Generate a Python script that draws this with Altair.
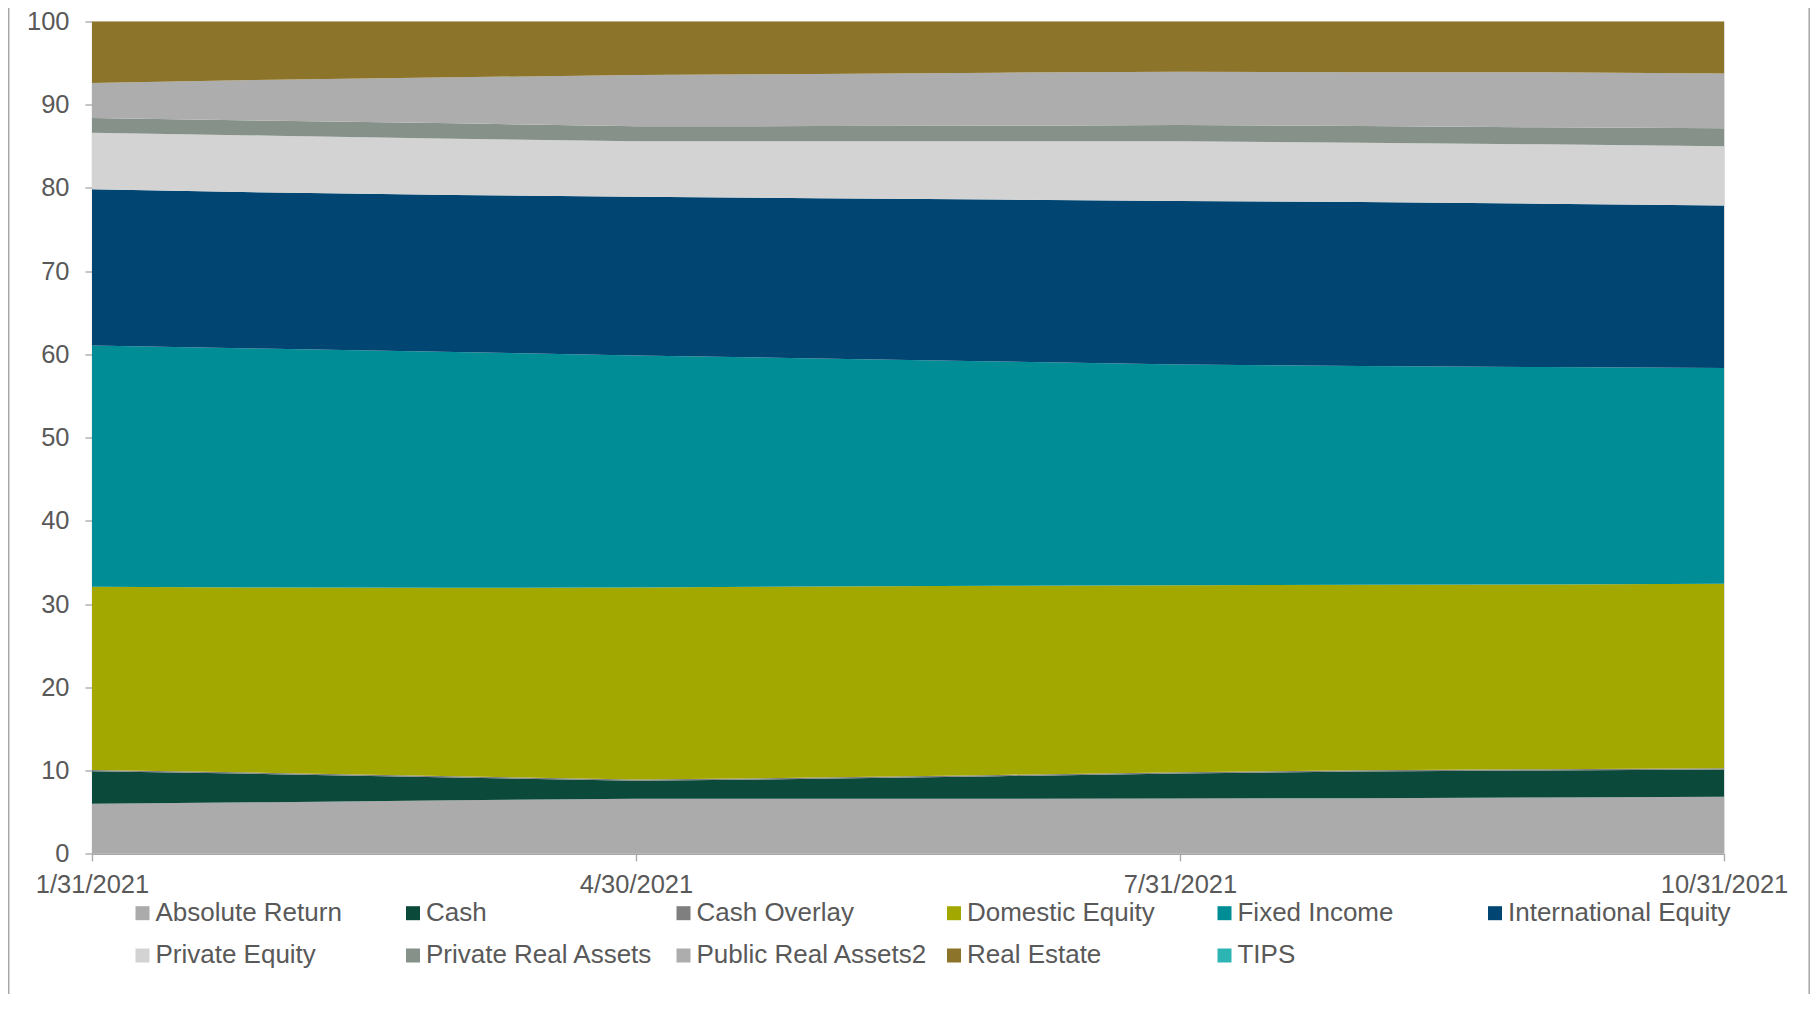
import altair as alt
import pandas as pd

dates = ["1/31/2021", "2/28/2021", "3/31/2021", "4/30/2021", "5/31/2021",
         "6/30/2021", "7/31/2021", "8/31/2021", "9/30/2021", "10/31/2021"]
tick_labels = ["1/31/2021", "4/30/2021", "7/31/2021", "10/31/2021"]

series_names = ["Absolute Return", "Cash", "Cash Overlay", "Domestic Equity", "Fixed Income",
                "International Equity", "Private Equity", "Private Real Assets",
                "Public Real Assets2", "Real Estate", "TIPS"]
series_colors = ["#ababab", "#0b4a3a", "#7f7f7f", "#a3a800", "#018d95",
                 "#014672", "#d3d3d3", "#859189", "#adadad", "#8c742b", "#2db5b3"]

absolute_return = [6.00, 6.20, 6.44, 6.60, 6.60, 6.62, 6.64, 6.68, 6.76, 6.84]
cash = [3.93, 3.37, 2.73, 2.17, 2.41, 2.71, 3.01, 3.21, 3.25, 3.29]
cash_overlay = [0.15, 0.15, 0.15, 0.15, 0.15, 0.15, 0.15, 0.15, 0.15, 0.15]
domestic_equity = [22.00, 22.28, 22.64, 23.08, 22.96, 22.72, 22.48, 22.28, 22.20, 22.16]
fixed_income = [29.00, 28.68, 28.32, 27.88, 27.40, 26.96, 26.52, 26.28, 26.12, 25.92]
international_equity = [18.75, 18.76, 18.88, 19.05, 19.24, 19.44, 19.64, 19.70, 19.62, 19.54]
private_equity = [6.81, 6.84, 6.76, 6.67, 6.84, 7.00, 7.16, 7.14, 7.14, 7.10]
private_real_assets = [1.76, 1.80, 1.84, 1.80, 1.84, 1.88, 1.96, 2.00, 2.04, 2.16]
public_real_assets2 = [4.20, 4.92, 5.54, 6.16, 6.26, 6.37, 6.40, 6.46, 6.62, 6.60]
real_estate = [7.40, 7.00, 6.70, 6.44, 6.30, 6.15, 6.04, 6.10, 6.10, 6.24]
tips = [0.0, 0.0, 0.0, 0.0, 0.0, 0.0, 0.0, 0.0, 0.0, 0.0]

all_values = [absolute_return, cash, cash_overlay, domestic_equity, fixed_income,
              international_equity, private_equity, private_real_assets,
              public_real_assets2, real_estate, tips]

rows = []
for k, (name, vals) in enumerate(zip(series_names, all_values)):
    for d, v in zip(dates, vals):
        rows.append({"date": d, "series": name, "value": v, "k": k})
df = pd.DataFrame(rows)

FONT = "Liberation Sans"
TXT = "#595959"
AX = "#a6a6a6"
AXIS_FS = 25.5
LEG_FS = 26

areas = alt.Chart(df).mark_area(interpolate="linear", opacity=1).encode(
    x=alt.X("date:O", sort=dates,
            scale=alt.Scale(type="point", padding=0),
            axis=alt.Axis(values=tick_labels, title=None, labelAngle=0,
                          labelOverlap=False, labelFont=FONT, labelFontSize=AXIS_FS,
                          labelColor=TXT, labelPadding=12, tickSize=7,
                          tickColor=AX, domainColor=AX, tickWidth=1.3, domainWidth=1.3,
                          grid=False)),
    y=alt.Y("value:Q", stack="zero",
            scale=alt.Scale(domain=[0, 100], nice=False),
            axis=alt.Axis(values=[0, 10, 20, 30, 40, 50, 60, 70, 80, 90, 100],
                          title=None, labelFont=FONT, labelFontSize=AXIS_FS,
                          labelColor=TXT, labelPadding=16, tickSize=7,
                          tickColor=AX, domainColor=AX, tickWidth=1.3, domainWidth=1.3,
                          grid=False)),
    color=alt.Color("series:N",
                    scale=alt.Scale(domain=series_names, range=series_colors),
                    legend=alt.Legend(orient="none", legendX=37.5, legendY=878.7,
                                      direction="horizontal", columns=6, gridAlign="all",
                                      symbolType="square", symbolSize=196,
                                      symbolStrokeWidth=0, symbolOpacity=1,
                                      labelFont=FONT, labelFontSize=LEG_FS, labelColor=TXT,
                                      labelOffset=0, labelLimit=400,
                                      columnPadding=12.5, rowPadding=16.3,
                                      title=None, padding=0)),
    order=alt.Order("k:Q", sort="ascending"),
)

left_rule = alt.Chart(alt.Data(values=[{"a": 1}])).mark_rule(
    color="#a6a6a6", strokeWidth=1.5
).encode(x=alt.value(-83.3), y=alt.value(-13.5), y2=alt.value(975))

right_rule = alt.Chart(alt.Data(values=[{"a": 1}])).mark_rule(
    color="#a6a6a6", strokeWidth=1.5
).encode(x=alt.value(1717.2), y=alt.value(-13.5), y2=alt.value(975))

chart = alt.layer(areas, left_rule, right_rule).properties(
    width=1632, height=832.3,
    autosize=alt.AutoSizeParams(type="none"),
    padding={"left": 84, "top": 13.5, "right": 86, "bottom": 140},
).configure_view(stroke=None).configure(background="white")

chart.save("out.html", embed_options={"renderer": "svg", "actions": False})
